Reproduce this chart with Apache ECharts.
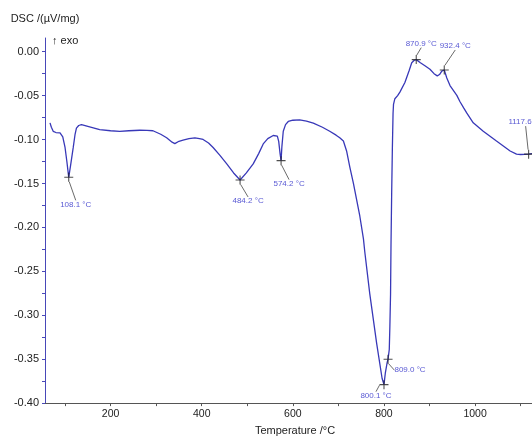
<!DOCTYPE html>
<html>
<head>
<meta charset="utf-8">
<script src="https://cdn.jsdelivr.net/npm/echarts@6/dist/echarts.min.js"></script>
<style>html,body{margin:0;padding:0;background:#fff;}#c{width:532px;height:441px;}</style>
</head>
<body>
<div id="c"></div>
<script>
// Curve: temperature (°C) and DSC signal (µV/mg)
const temps = [67,70,74,80,89,95,100,104,108.1,112,118,122,125,130,136,150,176,200,220,240,264,280,293,310,323,335,341,350,359,372,385,395,403,415,425,440,455,470,484.2,498,513,525,535,545,557,566,569,572,574.2,576,579,584,590,600,615,630,645,665,681,695,703,711,718,725,733,747,755,758,769,784,796,800.1,803,807,809.0,811.7,813,814.5,815.5,817,818.5,820,821,824,830,835,846,855,861,866,870.9,880,890,901,910,917,922,927,932.4,938,945,960,967,975,982,996,1018,1047,1077,1091,1100,1117.6,1125];
const dsc = [-0.081,-0.086,-0.0906,-0.092,-0.0924,-0.097,-0.109,-0.125,-0.143,-0.130,-0.109,-0.094,-0.087,-0.084,-0.083,-0.085,-0.0887,-0.090,-0.0906,-0.090,-0.0894,-0.0895,-0.090,-0.094,-0.098,-0.103,-0.1047,-0.102,-0.1006,-0.099,-0.098,-0.099,-0.0999,-0.104,-0.109,-0.118,-0.1277,-0.138,-0.146,-0.138,-0.1277,-0.116,-0.105,-0.099,-0.0954,-0.096,-0.102,-0.116,-0.124,-0.108,-0.0906,-0.083,-0.0794,-0.078,-0.0776,-0.079,-0.0813,-0.086,-0.0906,-0.095,-0.098,-0.1017,-0.113,-0.131,-0.150,-0.187,-0.213,-0.228,-0.276,-0.332,-0.372,-0.379,-0.366,-0.354,-0.350,-0.339,-0.313,-0.276,-0.22,-0.16,-0.11,-0.07,-0.06,-0.0535,-0.050,-0.046,-0.035,-0.022,-0.0126,-0.010,-0.009,-0.0125,-0.016,-0.020,-0.025,-0.0275,-0.026,-0.022,-0.0208,-0.030,-0.0386,-0.0497,-0.057,-0.064,-0.070,-0.081,-0.0906,-0.1017,-0.113,-0.1166,-0.117,-0.1166,-0.116];

// Annotated peaks
const peakTemps = [108.1, 484.2, 574.2, 800.1, 809.0, 870.9, 932.4, 1117.6];
const peakValues = [-0.143, -0.146, -0.124, -0.379, -0.350, -0.009, -0.0208, -0.1166];
const peakLabels = ['108.1 °C','484.2 °C','574.2 °C','800.1 °C','809.0 °C','870.9 °C','932.4 °C','1117.6 °C'];

// Axis ticks
const xTickValues = [100,200,300,400,500,600,700,800,900,1000,1100];
const xLabelValues = [200,400,600,800,1000];
const yLabelValues = [-0.40,-0.35,-0.30,-0.25,-0.20,-0.15,-0.10,-0.05,0.00];
const yTickValues = [-0.40,-0.375,-0.35,-0.325,-0.30,-0.275,-0.25,-0.225,-0.20,-0.175,-0.15,-0.125,-0.10,-0.075,-0.05,-0.025,0.00];

// label offsets (px) for annotations
const labelOffsets = [[7,27],[8,21],[8,23],[-8,11],[22,11],[5,-16],[11,-24],[-3,-32]];

const FONT = '"Liberation Sans", Arial, sans-serif';
const chart = echarts.init(document.getElementById('c'), null, {renderer:'canvas'});
chart.setOption({
  animation: false,
  backgroundColor: '#fff',
  grid: {left: 45, right: 0, top: 38, bottom: 31},
  xAxis: {
    type: 'value', min: 56, max: 1125,
    name: 'Temperature /°C', nameLocation: 'middle', nameGap: 20,
    nameTextStyle: {fontFamily: FONT, fontSize: 11, color: '#222', padding: [0,0,0,13]},
    axisLine: {show: true, onZero: false, lineStyle: {color: '#555', width: 1}},
    axisTick: {show: true, length: 3, customValues: xTickValues, lineStyle: {color: '#555'}},
    axisLabel: {customValues: xLabelValues, fontFamily: FONT, fontSize: 10.5, color: '#222', margin: 6,
      formatter: v => String(v)},
    splitLine: {show: false}
  },
  yAxis: {
    type: 'value', min: -0.40, max: 0.0156,
    name: 'DSC /(µV/mg)', nameLocation: 'end', nameGap: 14,
    nameTextStyle: {fontFamily: FONT, fontSize: 11, color: '#222'},
    axisLine: {show: true, onZero: false, lineStyle: {color: '#4848b8', width: 1}},
    axisTick: {show: true, length: 3, customValues: yTickValues, lineStyle: {color: '#4848b8'}},
    axisLabel: {customValues: yLabelValues, fontFamily: FONT, fontSize: 11, color: '#222', margin: 6,
      formatter: v => v.toFixed(2)},
    splitLine: {show: false}
  },
  graphic: [{type: 'text', left: 52, top: 35, style: {text: '↑ exo', font: '11px ' + FONT, fill: '#222'}}],
  series: [
    {
      type: 'line', data: temps.map((t, i) => [t, dsc[i]]),
      showSymbol: false, smooth: false,
      lineStyle: {color: '#3838b8', width: 1.3}
    },
    {
      type: 'scatter', data: peakTemps.map((t, i) => [t, peakValues[i]]),
      symbol: 'path://M0,4.4H10V5.6H0Z M4.4,0H5.6V10H4.4Z', symbolSize: 9,
      itemStyle: {color: '#222'},
      label: {show: true, position: 'inside', fontFamily: FONT, fontSize: 8, color: '#2d2dc8',
        formatter: p => peakLabels[p.dataIndex]},
      labelLayout: p => ({dx: labelOffsets[p.dataIndex][0], dy: labelOffsets[p.dataIndex][1]}),
      labelLine: {show: true, lineStyle: {color: '#444', width: 0.8}},
      z: 5
    }
  ]
});
</script>
</body>
</html>
